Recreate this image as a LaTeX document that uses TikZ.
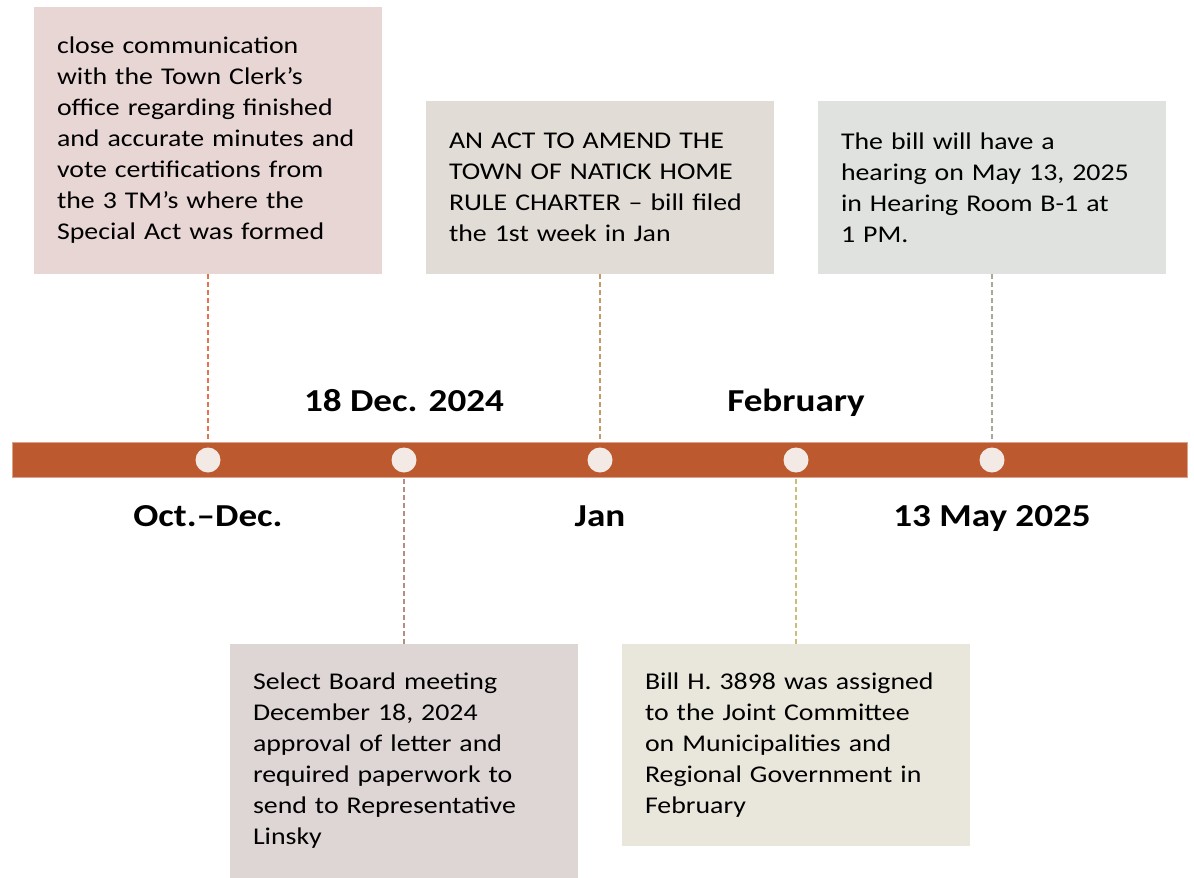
\documentclass[tikz,border=0pt]{standalone}
\usepackage{fontspec}
\setmainfont{Carlito}[FakeStretch=1.16]
\usetikzlibrary{positioning}

\definecolor{barorange}{HTML}{BC592E}
\definecolor{dotfill}{HTML}{F4EAE5}
\definecolor{octfill}{HTML}{E8D6D4}
\definecolor{janfill}{HTML}{E1DCD6}
\definecolor{mayfill}{HTML}{E0E2DF}
\definecolor{decfill}{HTML}{DDD6D4}
\definecolor{febfill}{HTML}{E9E7DC}
\definecolor{octline}{HTML}{DD774B}
\definecolor{decline}{HTML}{B38E82}
\definecolor{janline}{HTML}{C49A6C}
\definecolor{febline}{HTML}{C9BE7A}
\definecolor{mayline}{HTML}{A3AB98}

\begin{document}
\begin{tikzpicture}[x=1pt, y=-1pt,
    note/.style={fill=#1, text width=302pt, inner xsep=23pt, inner ysep=0pt, align=left,
        font=\fontsize{24}{31}\selectfont},
    datelbl/.style={anchor=base, font=\fontsize{32}{38}\selectfont\bfseries},
    dot/.style={circle, fill=dotfill, minimum size=25pt, inner sep=0pt},
    stem/.style={draw=#1, line width=1.2pt, dash pattern=on 5pt off 3pt}]
    \useasboundingbox (0,0) rectangle (1194,878);

    % timeline bar
    \node[fill=barorange, draw=barorange!55!white, line width=0.8pt, minimum width=1175pt,
        minimum height=35pt, inner sep=0pt] (bar) at (599.5,459.5) {};

    % notes above the bar
    \node[note=octfill, minimum height=267pt] (octbox) at (208,140.5)
        {close communication\\with the Town Clerk’s\\office regarding finished\\and accurate minutes and\\vote certifications from\\the 3 TM’s where the\\Special Act was formed};
    \node[note=janfill, minimum height=173pt] (janbox) at (600,187.5)
        {AN ACT TO AMEND THE\\TOWN OF NATICK HOME\\RULE CHARTER – bill filed\\the 1st week in Jan};
    \node[note=mayfill, minimum height=173pt] (maybox) at (992,187.5)
        {The bill will have a\\hearing on May 13, 2025\\in Hearing Room B-1 at\\1 PM.};

    % notes below the bar
    \node[note=decfill, minimum height=234pt] (decbox) at (404,761)
        {Select Board meeting\\December 18, 2024\\approval of letter and\\required paperwork to\\send to Representative\\Linsky};
    \node[note=febfill, minimum height=202pt] (febbox) at (796,745)
        {Bill H. 3898 was assigned\\to the Joint Committee\\on Municipalities and\\Regional Government in\\February};

    \draw[stem=octline] (octbox.south) -- (octbox.south |- bar.north);
    \draw[stem=janline] (janbox.south) -- (janbox.south |- bar.north);
    \draw[stem=mayline] (maybox.south) -- (maybox.south |- bar.north);
    \draw[stem=decline] (decbox.north) -- (decbox.north |- bar.south);
    \draw[stem=febline] (febbox.north) -- (febbox.north |- bar.south);

    \foreach \x/\n in {208/oct, 404/dec, 600/jan, 796/feb, 992/may}
        \node[dot] (\n dot) at (\x,460) {};

    % dates
    \node[datelbl] (declbl) at (404,411) {18 Dec. 2024};
    \node[datelbl] (feblbl) at (796,411) {February};
    \node[datelbl] (octlbl) at (208,526) {Oct.–Dec.};
    \node[datelbl] (janlbl) at (600,526) {Jan};
    \node[datelbl] (maylbl) at (992,526) {13 May 2025};
\end{tikzpicture}
\end{document}
